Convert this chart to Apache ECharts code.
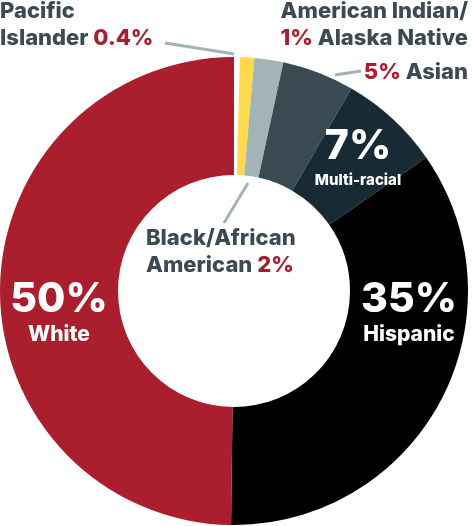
<!DOCTYPE html>
<html>
<head>
<meta charset="utf-8">
<script src="https://cdn.jsdelivr.net/npm/echarts@6/dist/echarts.min.js"></script>
<style>
  html, body { margin: 0; padding: 0; background: #fff; }
  #container { width: 472px; height: 526px; }
</style>
</head>
<body>
<div id="container"></div>
<script>
// 数据（顺时针，从12点开始）
var categories = ['Pacific Islander', 'American Indian/Alaska Native', 'Black/African American', 'Asian', 'Multi-racial', 'Hispanic', 'White'];
var values = [0.4, 1, 2, 5, 7, 35, 50];
var pctLabels = ['0.4%', '1%', '2%', '5%', '7%', '35%', '50%'];
var colors = ['#ffffff', '#fdd94e', '#a2b4b7', '#394a52', '#182b35', '#000000', '#aa1e2e'];

var slate = '#3b4a53', red = '#a91e2f', lineGrey = '#a2b4b7';
var fontFamily = 'Inter, "Open Sans", sans-serif';

// label text per slice
function labelText(i) {
  switch (i) {
    case 0: return '{n|Pacific}\n{n|Islander }{p|' + pctLabels[0] + '}';
    case 1: return '{n|American Indian/}\n{p|' + pctLabels[1] + '}{n| Alaska Native}';
    case 2: return '{n|Black/African}\n{n|American }{p|' + pctLabels[2] + '}';
    case 3: return '{p|' + pctLabels[3] + '}{n| Asian}';
    case 4: return '{big|' + pctLabels[4] + '}\n{sm|' + categories[4] + '}';
    default: return '{big|' + pctLabels[i] + '}\n{md|' + categories[i] + '}';
  }
}

// label placement (x, y, align) and leader lines
var labelPos = [
  {x: 0, y: 25, align: 'left', line: [[165, 43], [200, 48.5], [234, 54]]},
  {x: 468, y: 25, align: 'right'},
  {x: 146, y: 252, align: 'left', line: [[224, 223], [236, 203], [248, 183]]},
  {x: 468, y: 72, align: 'right', line: [[335, 75], [348, 73], [361, 71]]},
  {x: 358, y: 158, align: 'center'},
  {x: 409, y: 313, align: 'center'},
  {x: 59, y: 313, align: 'center'}
];

var dom = document.getElementById('container');
var myChart = echarts.init(dom);

var data = categories.map(function (name, i) {
  return {
    name: name,
    value: values[i],
    itemStyle: {color: colors[i]},
    labelLine: {show: !!labelPos[i].line}
  };
});

var option = {
  animation: false,
  series: [{
    type: 'pie',
    center: [234, 291],
    radius: [116, 234],
    startAngle: 90,
    clockwise: true,
    avoidLabelOverlap: false,
    silent: true,
    data: data,
    label: {
      show: true,
      position: 'outside',
      fontFamily: fontFamily,
      fontWeight: 'bold',
      formatter: function (params) { return labelText(params.dataIndex); },
      rich: {
        n: {color: slate, fontSize: 22, fontWeight: 800, fontFamily: fontFamily, lineHeight: 27},
        p: {color: red, fontSize: 22, fontWeight: 800, fontFamily: fontFamily, lineHeight: 27},
        big: {color: '#fff', fontSize: 41, fontWeight: 800, fontFamily: fontFamily, lineHeight: 44},
        md: {color: '#fff', fontSize: 21, fontWeight: 800, fontFamily: fontFamily, lineHeight: 26},
        sm: {color: '#fff', fontSize: 15, fontWeight: 800, fontFamily: fontFamily, lineHeight: 22}
      }
    },
    labelLine: {
      lineStyle: {color: lineGrey, width: 3}
    },
    labelLayout: function (params) {
      var p = labelPos[params.dataIndex];
      var out = {x: p.x, y: p.y, align: p.align, verticalAlign: 'middle'};
      if (p.line) out.labelLinePoints = p.line;
      return out;
    }
  }]
};
myChart.setOption(option, true);
</script>
</body>
</html>
